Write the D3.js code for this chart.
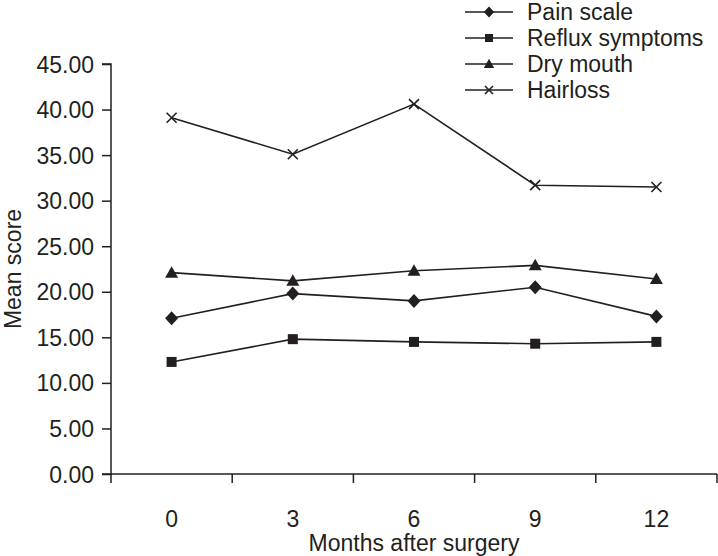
<!DOCTYPE html>
<html>
<head>
<meta charset="utf-8">
<script src="https://cdn.jsdelivr.net/npm/d3@7"></script>
<style>
  body { margin: 0; background: #fff; }
  svg { display: block; font-family: Arial, 'Liberation Sans', sans-serif; }
</style>
</head>
<body>
<div class="chart"></div>
<script>
// mean scores by months after surgery
var months = ['0', '3', '6', '9', '12']
var painScale = [17.1, 19.8, 19.0, 20.5, 17.3]
var refluxSymptoms = [12.3, 14.8, 14.5, 14.3, 14.5]
var dryMouth = [22.1, 21.2, 22.3, 22.9, 21.4]
var hairloss = [39.1, 35.1, 40.6, 31.7, 31.5]
var yTicks = [0, 5, 10, 15, 20, 25, 30, 35, 40, 45]

var seriesNames = ['Pain scale', 'Reflux symptoms', 'Dry mouth', 'Hairloss']
var seriesValues = [painScale, refluxSymptoms, dryMouth, hairloss]
var seriesShapes = ['diamond', 'square', 'triangle', 'cross']

var INK = '#231f20'
var FONT = 23
var width = 718, height = 556
var margin = {top: 64, right: 1, bottom: 82, left: 111}

var svg = d3.select('.chart').append('svg')
  .attr('width', width).attr('height', height)

var x = d3.scaleBand().domain(months).range([margin.left, width - margin.right])
var y = d3.scaleLinear().domain([0, 45]).range([height - margin.bottom, margin.top])

// marker shapes, centred on 0,0 (s = scale)
function marker(sel, shape, s){
  if (shape == 'diamond') sel.append('path')
    .attr('d', 'M0,' + (-7 * s) + 'L' + (6.5 * s) + ',0L0,' + (7 * s) + 'L' + (-6.5 * s) + ',0Z')
    .attr('fill', INK)
  if (shape == 'square') sel.append('rect')
    .attr('x', -5 * s).attr('y', -5 * s).attr('width', 10 * s).attr('height', 10 * s).attr('fill', INK)
  if (shape == 'triangle') sel.append('path')
    .attr('d', 'M0,' + (-6.5 * s) + 'L' + (6.5 * s) + ',' + (5 * s) + 'L' + (-6.5 * s) + ',' + (5 * s) + 'Z')
    .attr('fill', INK)
  if (shape == 'cross') sel.append('path')
    .attr('d', 'M' + (-5 * s) + ',' + (-5 * s) + 'L' + (5 * s) + ',' + (5 * s) +
      'M' + (5 * s) + ',' + (-5 * s) + 'L' + (-5 * s) + ',' + (5 * s))
    .attr('stroke', INK).attr('stroke-width', 1.6).attr('fill', 'none')
}

// ---- axes ----
var yAxis = d3.axisLeft(y).tickValues(yTicks).tickFormat(d3.format('.2f')).tickSize(9).tickPadding(8)
var gy = svg.append('g').attr('transform', 'translate(' + margin.left + ',0)').call(yAxis)

var xAxis = d3.axisBottom(x).tickSize(0).tickPadding(0)
var gx = svg.append('g').attr('transform', 'translate(0,' + y(0) + ')').call(xAxis)
// tick marks sit between the categories, at band edges
var edges = months.map(function(m){ return x(m) }).concat([x.range()[1]])
gx.selectAll('line.edge').data(edges).enter().append('line')
  .attr('class', 'edge').attr('x1', function(d){ return d }).attr('x2', function(d){ return d })
  .attr('y1', 0).attr('y2', 9)
gx.selectAll('.tick text').attr('dy', 0).attr('y', 53)

svg.selectAll('.domain, .tick line, line.edge').attr('stroke', INK).attr('stroke-width', 1.5)
gy.select('.domain').attr('d', 'M' + (-9) + ',' + y(45) + 'H0V' + y(0) + 'H-9')
gx.select('.domain').attr('d', 'M' + x.range()[0] + ',0H' + x.range()[1])
svg.selectAll('.tick text').attr('fill', INK).attr('font-size', FONT)
  .attr('font-family', "Arial, 'Liberation Sans', sans-serif")
gy.selectAll('.tick text').attr('dy', '0.35em')

// axis titles
svg.append('text').text('Months after surgery')
  .attr('x', (x.range()[0] + x.range()[1]) / 2).attr('y', 551)
  .attr('text-anchor', 'middle').attr('font-size', FONT).attr('fill', INK)
svg.append('text').text('Mean score')
  .attr('transform', 'translate(21,' + (y(0) + y(45)) / 2 + ') rotate(-90)')
  .attr('text-anchor', 'middle').attr('font-size', FONT).attr('fill', INK)

// ---- lines + markers ----
var cx = function(i){ return x(months[i]) + x.bandwidth() / 2 }
var line = d3.line().x(function(d, i){ return cx(i) }).y(function(d){ return y(d) })

seriesValues.forEach(function(vals, k){
  svg.append('path').attr('d', line(vals))
    .attr('fill', 'none').attr('stroke', INK).attr('stroke-width', 1.6)
  vals.forEach(function(v, i){
    var g = svg.append('g').attr('transform', 'translate(' + cx(i) + ',' + y(v) + ')')
    marker(g, seriesShapes[k], 1.0)
  })
})

// ---- legend ----
var legendY = [12, 38, 64, 90]
seriesNames.forEach(function(name, k){
  var lg = svg.append('g').attr('transform', 'translate(465,' + legendY[k] + ')')
  lg.append('line').attr('x1', 0).attr('x2', 48).attr('stroke', INK).attr('stroke-width', 1.6)
  var mg = lg.append('g').attr('transform', 'translate(24,0)')
  marker(mg, seriesShapes[k], 0.8)
  lg.append('text').text(name).attr('x', 62).attr('dy', '0.35em')
    .attr('font-size', FONT).attr('fill', INK)
})
</script>
</body>
</html>
